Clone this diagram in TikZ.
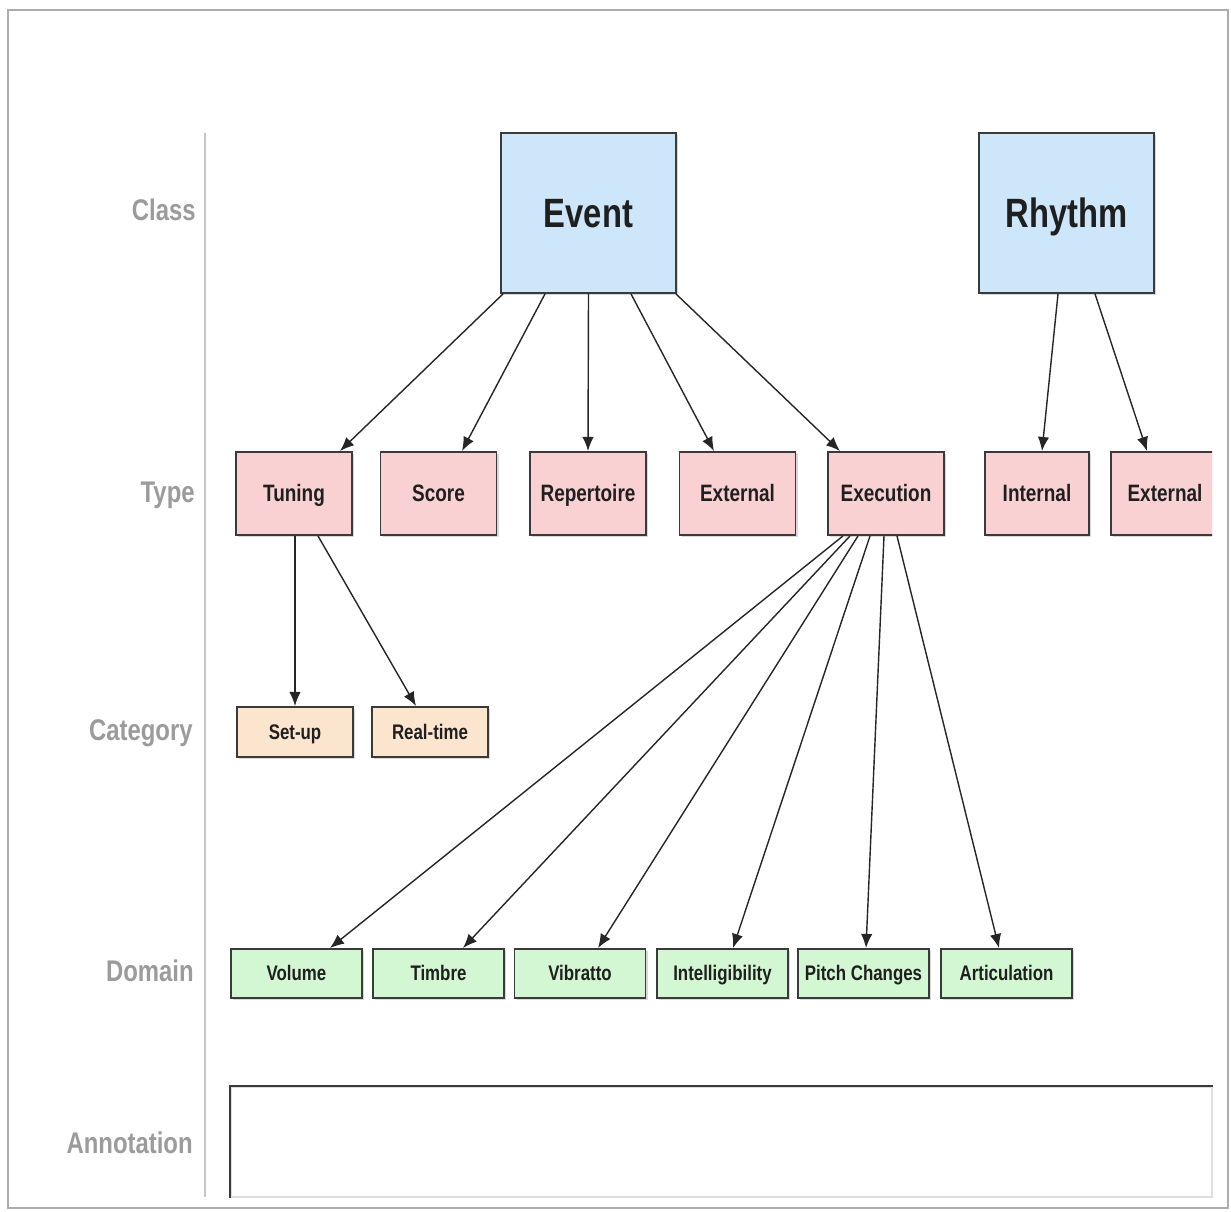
\documentclass[tikz,border=0pt]{standalone}
\usepackage{fontspec}
\setmainfont{Liberation Sans}[FakeStretch=0.8]
\usepackage{tikz}
\usetikzlibrary{arrows.meta,calc,shadows}
\definecolor{clsCol}{HTML}{CDE6FA}
\definecolor{typCol}{HTML}{F9D1D3}
\definecolor{catCol}{HTML}{FCE5CE}
\definecolor{domCol}{HTML}{D3F7D3}
\definecolor{edgeCol}{HTML}{3A3A3A}
\definecolor{lvlCol}{HTML}{9B9B9B}
\tikzset{
  box/.style={draw=edgeCol, line width=1.1pt, inner sep=0pt, text=black!88, text depth=0pt,
              drop shadow={shadow xshift=1.3pt, shadow yshift=-1.3pt, opacity=0.3}},
  clsbox/.style={box, fill=clsCol, minimum width=3.5cm, minimum height=3.2cm,
                 font=\fontsize{23.3}{28}\selectfont\bfseries, text height=16.1pt},
  typbox/.style={box, fill=typCol, minimum width=#1, minimum height=1.66cm,
                 font=\fontsize{13.5}{16}\selectfont\bfseries, text height=9.3pt},
  typbox/.default=2.32cm,
  catbox/.style={box, fill=catCol, minimum width=2.32cm, minimum height=1.0cm,
                 font=\fontsize{12}{14}\selectfont\bfseries, text height=8.3pt},
  dombox/.style={box, fill=domCol, minimum width=2.62cm, minimum height=0.98cm,
                 font=\fontsize{12}{14}\selectfont\bfseries, text height=8.3pt},
  lvl/.style={anchor=east, inner sep=0pt, text=lvlCol, text height=11.7pt, text depth=0pt,
              font=\fontsize{17}{20}\selectfont\bfseries},   % row names on the left
  arr/.style={-{Latex[length=8pt,width=6.5pt]}, line width=0.8pt, black!85},
}

\begin{document}
\begin{tikzpicture}[x=0.02cm, y=-0.02cm]
  \useasboundingbox (0,0) rectangle (1231,1212);
  \def\yC{213}\def\yT{493.5}\def\yK{732}\def\yD{973.5}\def\yA{1142}
  \draw[gray!65, line width=1pt] (8,10) rectangle (1228,1208);
  \draw[gray!45, line width=1pt] (205,133) -- (205,1197);

  % row names
  \node[lvl] (lC) at (196,210)  {Class};
  \node[lvl] (lT) at (195,492)  {Type};
  \node[lvl] (lK) at (193,730)  {Category};
  \node[lvl] (lD) at (194,971)  {Domain};
  \node[lvl] (lA) at (193,1143) {Annotation};

  % classes
  \node[clsbox] (event)  at (588.5,\yC)  {Event};
  \node[clsbox] (rhythm) at (1066.5,\yC) {Rhythm};

  % types
  \node[typbox] (tuning) at (294,\yT)   {Tuning};
  \node[typbox] (score)  at (438.5,\yT) {Score};
  \node[typbox] (reper)  at (588,\yT)   {Repertoire};
  \node[typbox] (extA)   at (737.5,\yT) {External};
  \node[typbox] (exec)   at (886,\yT)   {Execution};
  \node[typbox=2.08cm] (intB) at (1037,\yT) {Internal};
  \begin{scope}
    \clip (0,0) rectangle (1212,1212);
    \node[typbox=2.16cm] (extB) at (1165,\yT) {External};
  \end{scope}

  % categories
  \node[catbox] (setup) at (295,\yK) {Set-up};
  \node[catbox] (realt) at (430,\yK) {Real-time};

  % domains
  \node[dombox] (vol)   at (296.5,\yD)  {Volume};
  \node[dombox] (timb)  at (438.5,\yD)  {Timbre};
  \node[dombox] (vib)   at (580,\yD)    {Vibratto};
  \node[dombox] (intel) at (722.5,\yD)  {Intelligibility};
  \node[dombox] (pitch) at (863.5,\yD)  {Pitch Changes};
  \node[dombox] (artic) at (1006.5,\yD) {Articulation};

  % annotation strip
  \node[draw=gray!25, line width=1pt, fill=white, minimum width=19.62cm, minimum height=2.2cm]
    (anno) at (721.5,\yA) {};
  \draw[edgeCol, line width=1.1pt] (anno.south west) -- (anno.north west) -- (anno.north east);

  % Event -> types
  \draw[arr] ($(event.south)+(-85.5,0)$) -- ($(tuning.north)+(46,0)$);
  \draw[arr] ($(event.south)+(-43.5,0)$) -- ($(score.north)+(23.5,0)$);
  \draw[arr] (event.south) -- (reper.north);
  \draw[arr] ($(event.south)+(42.5,0)$) -- ($(extA.north)+(-23.5,0)$);
  \draw[arr] ($(event.south)+(87.5,0)$) -- ($(exec.north)+(-46,0)$);
  % Rhythm -> types
  \draw[arr] ($(rhythm.south)+(-8.5,0)$) -- ($(intB.north)+(5,0)$);
  \draw[arr] ($(rhythm.south)+(28.5,0)$) -- ($(extB.north)+(-18,0)$);
  % Tuning -> categories
  \draw[arr] ($(tuning.south)+(1,0)$) -- (setup.north);
  \draw[arr] ($(tuning.south)+(24,0)$) -- ($(realt.north)+(-14,0)$);
  % Execution -> domains
  \draw[arr] ($(exec.south)+(-43,0)$) -- ($(vol.north)+(33.5,0)$);
  \draw[arr] ($(exec.south)+(-36,0)$) -- ($(timb.north)+(24.5,0)$);
  \draw[arr] ($(exec.south)+(-28,0)$) -- ($(vib.north)+(18,0)$);
  \draw[arr] ($(exec.south)+(-16,0)$) -- ($(intel.north)+(10.5,0)$);
  \draw[arr] ($(exec.south)+(-2,0)$) -- ($(pitch.north)+(2.5,0)$);
  \draw[arr] ($(exec.south)+(11,0)$) -- ($(artic.north)+(-7.5,0)$);
\end{tikzpicture}
\end{document}
